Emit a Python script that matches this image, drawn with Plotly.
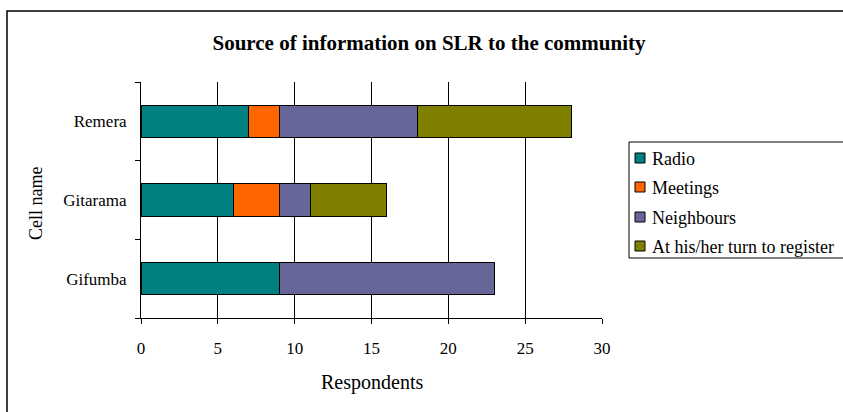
import plotly.graph_objects as go

categories = ["Gifumba", "Gitarama", "Remera"]
radio = [9, 6, 7]
meetings = [0, 3, 2]
neighbours = [14, 2, 9]
at_turn = [0, 5, 10]
series_names = ["Radio", "Meetings", "Neighbours", "At his/her turn to register"]
series_colors = ["#008080", "#FF6600", "#666699", "#808000"]
x_ticks = [0, 5, 10, 15, 20, 25, 30]

W, H = 843, 412
L, R, T, B = 141, 602, 82, 318
FONT = "Liberation Serif, Times New Roman, serif"

fig = go.Figure()
for name, vals, col in zip(series_names, [radio, meetings, neighbours, at_turn], series_colors):
    fig.add_trace(go.Bar(
        y=categories, x=vals, name=name, orientation="h",
        marker=dict(color=col, line=dict(color="black", width=1)),
        width=0.41, showlegend=False,
    ))

def px_x(p):
    return (p - L) / (R - L)

def px_y(p):
    return (B - p) / (B - T)

fig.update_layout(
    width=W, height=H,
    margin=dict(l=L, r=W - R, t=T, b=H - B, autoexpand=False),
    barmode="stack",
    plot_bgcolor="white", paper_bgcolor="white",
    font=dict(family=FONT, size=17, color="black"),
    showlegend=False,
    title=dict(
        text="<b>Source of information on SLR to the community</b>",
        x=429 / W, xref="container", xanchor="center",
        y=1 - 43 / H, yref="container", yanchor="middle",
        font=dict(family=FONT, size=21, color="black"),
    ),
    xaxis=dict(
        range=[0, 30], tickvals=x_ticks, ticktext=[str(v) for v in x_ticks],
        showgrid=True, gridcolor="black", gridwidth=1,
        showline=True, linecolor="black", linewidth=1,
        ticks="outside", ticklen=5, tickcolor="black",
        ticklabelstandoff=10, zeroline=False, fixedrange=True,
        tickfont=dict(family=FONT, size=17),
    ),
    yaxis=dict(
        categoryorder="array", categoryarray=categories,
        showgrid=False, showline=True, linecolor="black", linewidth=1,
        ticks="outside", ticklen=5, tickcolor="black", tickson="boundaries",
        ticklabelstandoff=10, fixedrange=True,
        tickfont=dict(family=FONT, size=17),
    ),
)

fig.add_annotation(text="Respondents", xref="paper", yref="paper",
                   x=0.5, y=px_y(382), xanchor="center", yanchor="middle",
                   showarrow=False, font=dict(family=FONT, size=20))
fig.add_annotation(text="Cell name", xref="paper", yref="paper",
                   x=px_x(36), y=px_y(204), xanchor="center", yanchor="middle",
                   textangle=-90, showarrow=False, font=dict(family=FONT, size=18))

# outer chart border
fig.add_shape(type="rect", xref="paper", yref="paper",
              x0=px_x(7), x1=px_x(860), y0=px_y(430), y1=px_y(11),
              line=dict(color="black", width=1.5), fillcolor="rgba(0,0,0,0)", layer="below")

# legend box
fig.add_shape(type="rect", xref="paper", yref="paper",
              x0=px_x(629), x1=px_x(860), y0=px_y(258), y1=px_y(142),
              line=dict(color="black", width=1), fillcolor="white", layer="above")
legend_centers = [158, 187, 217, 246]
for name, col, cy in zip(series_names, series_colors, legend_centers):
    fig.add_shape(type="rect", xref="paper", yref="paper",
                  x0=px_x(635), x1=px_x(645), y0=px_y(cy + 5), y1=px_y(cy - 5),
                  line=dict(color="black", width=1), fillcolor=col, layer="above")
    fig.add_annotation(text=name, xref="paper", yref="paper",
                       x=px_x(650), y=px_y(cy + 1), xanchor="left", yanchor="middle",
                       showarrow=False, font=dict(family=FONT, size=18, color="black"))

fig.write_html("out.html")
